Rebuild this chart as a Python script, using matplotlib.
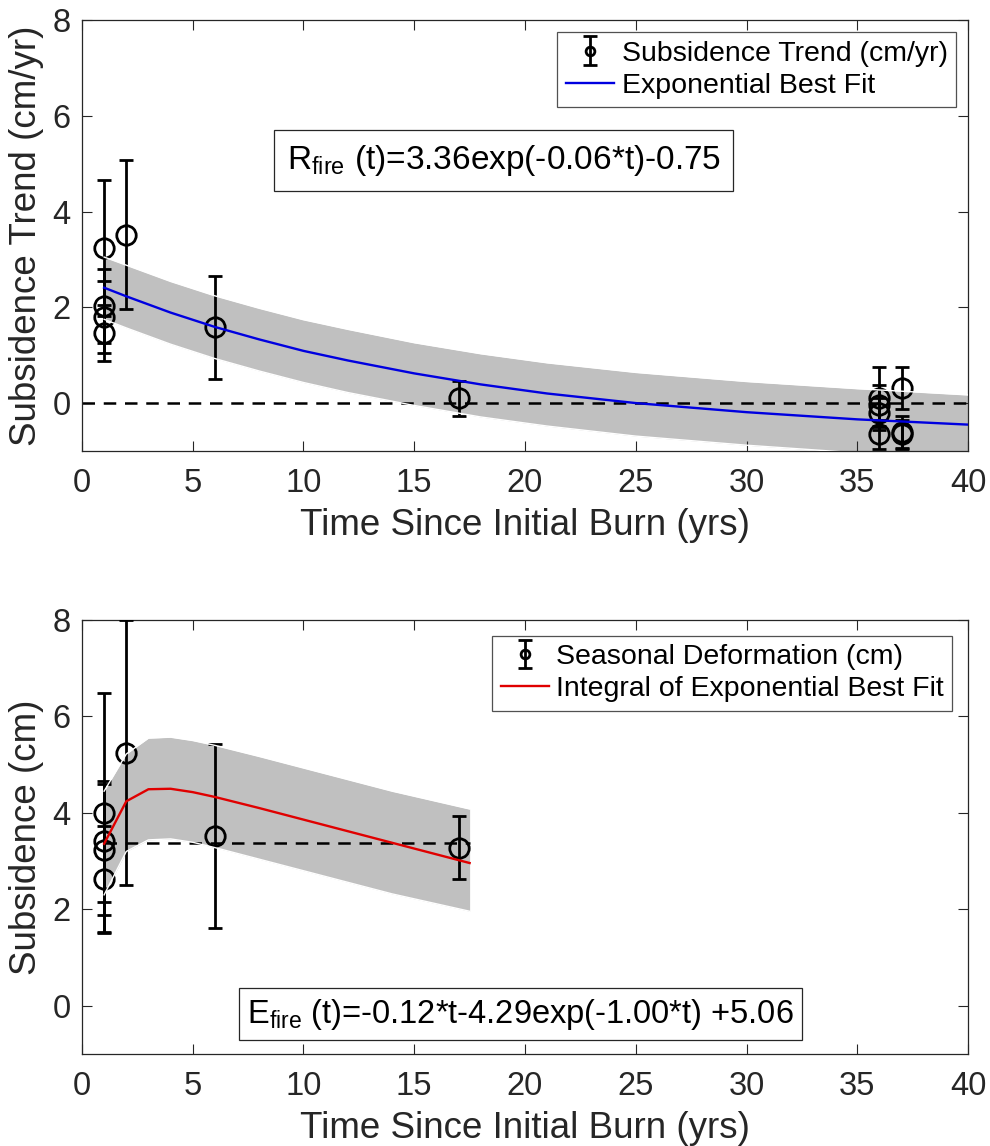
import numpy as np
import matplotlib
matplotlib.use("Agg")
import matplotlib.pyplot as plt

plt.rcParams['font.family'] = ['Liberation Sans', 'DejaVu Sans']

# top panel: subsidence trend (cm/yr)
trend_t = [1, 1, 1, 1, 2, 6, 17, 36, 36, 36, 36, 37, 37, 37]
trend_v = [3.23, 2.02, 1.80, 1.46, 3.52, 1.58, 0.10, 0.10, -0.05, -0.20, -0.65, 0.32, -0.60, -0.65]
trend_err = [1.42, 0.77, 0.76, 0.59, 1.56, 1.08, 0.37, 0.66, 0.42, 0.30, 0.30, 0.44, 0.33, 0.30]

# exponential best fit and its band
fit_t = [1, 2, 4, 6, 8, 10, 12, 15, 18, 21, 25, 30, 35, 40]
fit_v = [2.41, 2.23, 1.89, 1.59, 1.33, 1.09, 0.89, 0.62, 0.39, 0.20, 0.00, -0.19, -0.34, -0.45]
fit_hi = [3.05, 2.88, 2.54, 2.24, 1.98, 1.74, 1.54, 1.26, 1.03, 0.84, 0.64, 0.45, 0.30, 0.17]
fit_lo = [1.75, 1.57, 1.23, 0.93, 0.67, 0.43, 0.22, -0.05, -0.29, -0.48, -0.69, -0.88, -1.04, -1.15]

# bottom panel: seasonal deformation (cm)
seas_t = [1, 1, 1, 1, 2, 6, 17]
seas_v = [4.00, 3.41, 3.24, 2.62, 5.25, 3.52, 3.28]
seas_err = [2.49, 1.25, 1.35, 1.10, 2.75, 1.90, 0.66]
seas_mean = 3.38

# integral of exponential fit and band
int_t = [1, 2, 3, 4, 5, 6, 8, 10, 12, 14, 17.5]
int_v = [3.36, 4.24, 4.49, 4.50, 4.43, 4.33, 4.10, 3.86, 3.62, 3.38, 2.96]
int_hi = [4.45, 5.22, 5.55, 5.57, 5.50, 5.40, 5.17, 4.93, 4.69, 4.45, 4.08]
int_lo = [2.30, 3.20, 3.44, 3.46, 3.39, 3.28, 3.04, 2.80, 2.56, 2.32, 1.96]

fig = plt.figure(figsize=(9.9, 11.46), dpi=100)
ax1 = fig.add_axes([0.0828, 0.6065, 0.895, 0.376])
ax2 = fig.add_axes([0.0828, 0.0803, 0.895, 0.3787])

spine_c = '#262626'
ebkw = dict(fmt='o', color='k', mfc='none', mec='k', ms=14, mew=2.0,
            elinewidth=2.0, capsize=5, capthick=2.0, zorder=3)
legkw = dict(loc='upper right', fontsize=20.5, frameon=True, fancybox=False,
             edgecolor=spine_c, handlelength=1.7, handletextpad=0.25,
             borderpad=0.3, labelspacing=0.22, markerscale=0.45)


def style(ax):
    ax.set_xlim(0, 40)
    ax.set_ylim(-1, 8)
    ax.set_xticks(np.arange(0, 41, 5))
    ax.set_yticks([0, 2, 4, 6, 8])
    ax.tick_params(direction='in', length=7, width=0.8, labelsize=23.5, pad=8,
                   top=True, right=True, colors=spine_c, labelcolor='#262626')
    ax.tick_params(axis='x', pad=12)
    for s in ax.spines.values():
        s.set_color(spine_c)
        s.set_linewidth(0.9)
    ax.set_xlabel('Time Since Initial Burn (yrs)', fontsize=26.5, color='#262626',
                  labelpad=7)


def ordered_legend(ax, pad):
    h, l = ax.get_legend_handles_labels()
    # errorbar entry first, like the original
    leg = ax.legend(h[::-1], l[::-1], borderaxespad=pad, **legkw)
    leg.get_frame().set_linewidth(0.9)


# top
ax1.fill_between(fit_t, fit_lo, fit_hi, color='#c0c0c0', lw=0, zorder=1)
ax1.axhline(0, color='k', ls=(0, (5, 3.5)), lw=1.8, zorder=2)
ax1.errorbar(trend_t, trend_v, yerr=trend_err, label='Subsidence Trend (cm/yr)', **ebkw)
ax1.plot(fit_t, fit_hi, color='white', lw=1.0, zorder=4)
ax1.plot(fit_t, fit_lo, color='white', lw=1.0, zorder=4)
ax1.plot(fit_t, fit_v, color='#0000e0', lw=1.7, zorder=5, label='Exponential Best Fit')
style(ax1)
ax1.set_ylabel('Subsidence Trend (cm/yr)', fontsize=26.5, color='#262626', labelpad=6)
ordered_legend(ax1, 0.42)
ax1.text(0.231, 0.674, r'R$_{\mathregular{fire}}$ (t)=3.36exp(-0.06*t)-0.75',
         transform=ax1.transAxes, fontsize=24, va='center', ha='left',
         bbox=dict(boxstyle='square,pad=0.38', fc='white', ec=spine_c, lw=0.9))

# bottom
ax2.fill_between(int_t, int_lo, int_hi, color='#c0c0c0', lw=0, zorder=1)
ax2.plot([int_t[0], int_t[-1]], [seas_mean, seas_mean], color='k',
         ls=(0, (5, 3.5)), lw=1.8, zorder=2)
ax2.errorbar(seas_t, seas_v, yerr=seas_err, label='Seasonal Deformation (cm)', **ebkw)
ax2.plot(int_t, int_hi, color='white', lw=1.0, zorder=4)
ax2.plot(int_t, int_lo, color='white', lw=1.0, zorder=4)
ax2.plot(int_t, int_v, color='#e00000', lw=1.7, zorder=5,
         label='Integral of Exponential Best Fit')
style(ax2)
ax2.set_ylabel('Subsidence (cm)', fontsize=26.5, color='#262626', labelpad=6)
ordered_legend(ax2, 0.55)
ax2.text(0.186, 0.092, r'E$_{\mathregular{fire}}$ (t)=-0.12*t-4.29exp(-1.00*t) +5.06',
         transform=ax2.transAxes, fontsize=23.5, va='center', ha='left',
         bbox=dict(boxstyle='square,pad=0.25', fc='white', ec=spine_c, lw=0.9))

fig.savefig('out.png', dpi=100)
